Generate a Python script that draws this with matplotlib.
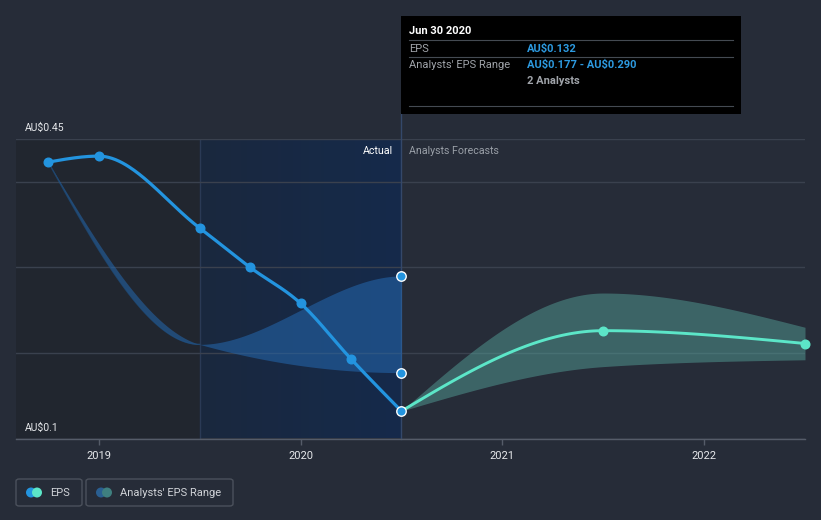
import numpy as np
import matplotlib
matplotlib.use("Agg")
import matplotlib.pyplot as plt
from matplotlib.patches import Rectangle, FancyBboxPatch, Ellipse
from matplotlib.lines import Line2D

plt.rcParams['font.family'] = ['Roboto', 'DejaVu Sans']

# ---------------- data ----------------
eps_x = [2018.75, 2019.0, 2019.5, 2019.75, 2020.0, 2020.25, 2020.5]
eps_y = [0.423, 0.430, 0.346, 0.300, 0.258, 0.193, 0.132]

past_range_x = [2018.75, 2019.5, 2020.5]
past_range_low = [0.423, 0.210, 0.177]
past_range_high = [0.423, 0.210, 0.290]

fc_x = [2020.5, 2021.5, 2022.5]
fc_eps = [0.132, 0.226, 0.211]
fc_low = [0.132, 0.184, 0.192]
fc_high = [0.132, 0.270, 0.230]

year_ticks = [2019, 2020, 2021, 2022]
year_labels = ["2019", "2020", "2021", "2022"]
y_labels = {0.45: r"AU\$0.45", 0.1: r"AU\$0.1"}
grid_vals = [0.1, 0.2, 0.3, 0.4, 0.45]

XMIN, XMAX = 2018.59, 2022.5
YMIN, YMAX = 0.1, 0.45

# ---------------- colours ----------------
BG = '#262c38'
GRID = '#3a414e'
BLUE = '#2394df'
TEAL = '#5ce6c8'
PAST_FILL = '#2468b0'
FC_FILL = '#58aaa0'


def monotone(x, y, n=60, end_slope=None):
    """d3 curveMonotoneX style rendering of a polyline."""
    x = np.asarray(x, float); y = np.asarray(y, float)
    h = np.diff(x); s = np.diff(y) / h
    m = np.zeros_like(x)
    for i in range(1, len(x) - 1):
        h0, h1 = h[i - 1], h[i]
        s0, s1 = s[i - 1], s[i]
        p = (s0 * h1 + s1 * h0) / (h0 + h1)
        m[i] = (np.sign(s0) + np.sign(s1)) * min(abs(s0), abs(s1), 0.5 * abs(p))
    m[0] = (3 * s[0] - m[1]) / 2 if len(x) > 2 else s[0]
    m[-1] = (3 * s[-1] - m[-2]) / 2 if len(x) > 2 else s[-1]
    if end_slope is not None:
        m[-1] = end_slope
    xs, ys = [], []
    for i in range(len(x) - 1):
        t = np.linspace(0, 1, n, endpoint=(i == len(x) - 2))
        h00 = 2 * t**3 - 3 * t**2 + 1
        h10 = t**3 - 2 * t**2 + t
        h01 = -2 * t**3 + 3 * t**2
        h11 = t**3 - t**2
        xs.append(x[i] + t * h[i])
        ys.append(h00 * y[i] + h10 * h[i] * m[i] + h01 * y[i + 1] + h11 * h[i] * m[i + 1])
    return np.concatenate(xs), np.concatenate(ys)


W, H = 821, 520
fig = plt.figure(figsize=(W / 100, H / 100), dpi=100)
fig.patch.set_facecolor(BG)


def fx(px):
    return px / W


def fy(py):
    return 1 - py / H


ax_left, ax_right, ax_top, ax_bottom = 16, 805, 139, 438.5
ax = fig.add_axes([fx(ax_left), fy(ax_bottom), fx(ax_right - ax_left), (ax_bottom - ax_top) / H])
ax.set_facecolor(BG)
ax.set_xlim(XMIN, XMAX)
ax.set_ylim(YMIN, YMAX)
for sp in ['top', 'right', 'left']:
    ax.spines[sp].set_visible(False)
ax.spines['bottom'].set_color('#555c69')
ax.spines['bottom'].set_linewidth(1)

# shaded regions
ax.axvspan(XMIN, 2019.5, color='#21262f', zorder=0, lw=0)
grad = np.linspace(0, 1, 256).reshape(1, -1)
c0 = np.array([26, 40, 62]) / 255
c1 = np.array([21, 42, 75]) / 255
img = c0[None, None, :] * (1 - grad[..., None]) + c1[None, None, :] * grad[..., None]
ax.imshow(img, extent=[2019.5, 2020.5, YMIN, YMAX], aspect='auto', zorder=0.5)
ax.axvline(2019.5, color='#2a3a55', lw=1, zorder=1)

# grid
for g in grid_vals:
    ax.axhline(g, color=GRID if g != 0.1 else '#555c69', lw=1, zorder=1)

# past analyst range
bx, bl = monotone(past_range_x, past_range_low, end_slope=0.0)
_, bh = monotone(past_range_x, past_range_high, end_slope=0.0)
ax.fill_between(bx, bl, bh, color=PAST_FILL, alpha=0.55, lw=0, zorder=2)
left = bx <= 2019.5
ax.plot(bx[left], bh[left], color='#1f4f80', lw=1.0, alpha=0.7, zorder=2)

# forecast range
fx_, fl = monotone(fc_x, fc_low)
_, fh = monotone(fc_x, fc_high)
ax.fill_between(fx_, fl, fh, color=FC_FILL, alpha=0.45, lw=0, zorder=2)

# forecast line
lx, ly = monotone(fc_x, fc_eps)
ax.plot(lx, ly, color=TEAL, lw=2.1, zorder=3, solid_capstyle='round')
ax.plot(fc_x[1:], fc_eps[1:], 'o', color=TEAL, ms=6.2, zorder=4, clip_on=False)

# EPS line
ex, ey = monotone(eps_x, eps_y)
ax.plot(ex, ey, color=BLUE, lw=2.3, zorder=5, solid_capstyle='round')
ax.plot(eps_x[:-1], eps_y[:-1], 'o', color=BLUE, ms=6.2, zorder=6)
ax.plot([eps_x[-1]], [eps_y[-1]], 'o', color=BLUE, ms=6.8, mec='white', mew=1, zorder=7)
ax.plot([past_range_x[-1]] * 2, [past_range_low[-1], past_range_high[-1]], 'o',
        color=BLUE, ms=6.8, mec='white', mew=1, zorder=7, ls='none')

# vertical hover line extending to tooltip
ax.axvline(2020.5, ymin=0, ymax=(ax_bottom - 113) / (ax_bottom - ax_top),
           color='#34486a', lw=1, zorder=1.5, clip_on=False)

# ticks
ax.set_xticks(year_ticks)
ax.set_xticklabels(year_labels, color='#e6e8eb', fontsize=8)
ax.tick_params(axis='x', colors='#555c69', length=4, width=1, pad=5, labelcolor='#e6e8eb')
ax.set_yticks([])

# y labels
for v, lab in y_labels.items():
    ypx = ax_bottom - (v - YMIN) / (YMAX - YMIN) * (ax_bottom - ax_top)
    fig.text(fx(25), fy(ypx - 11), lab, color='#e6e8eb', fontsize=7.5, va='center', ha='left')

# Actual / Forecast labels
fig.text(fx(393), fy(151), "Actual", color='white', fontsize=7.7, ha='right', va='center')
fig.text(fx(409), fy(151), "Analysts Forecasts", color='#9aa0a8', fontsize=7.7, ha='left', va='center')

# tooltip
fig.patches.append(Rectangle((fx(401), fy(114)), fx(741 - 401), (114 - 16) / H,
                             transform=fig.transFigure, facecolor='black', edgecolor='none', zorder=10))
for ly_ in [40, 57, 106]:
    fig.lines.append(Line2D([fx(409), fx(733)], [fy(ly_), fy(ly_)], transform=fig.transFigure,
                            color='#444a52', lw=0.8, zorder=11))
TS = 8
fig.text(fx(409), fy(31), "Jun 30 2020", color='white', fontsize=TS, fontweight='bold',
         va='center', ha='left', zorder=12)
fig.text(fx(409), fy(48.5), "EPS", color='#a0a4aa', fontsize=TS, va='center', ha='left', zorder=12)
fig.text(fx(527), fy(48.5), r"AU\$0.132", color='#2d9ae0', fontsize=TS, fontweight='bold',
         va='center', ha='left', zorder=12)
fig.text(fx(409), fy(65), "Analysts' EPS Range", color='#a0a4aa', fontsize=TS, va='center',
         ha='left', zorder=12)
fig.text(fx(527), fy(65), r"AU\$0.177 - AU\$0.290", color='#2d9ae0', fontsize=TS, fontweight='bold',
         va='center', ha='left', zorder=12)
fig.text(fx(527), fy(81.5), "2 Analysts", color='#a0a4aa', fontsize=TS, fontweight='bold',
         va='center', ha='left', zorder=12)


# legend boxes
def legend_box(x0, x1, label, c_a, c_b, tx):
    fig.patches.append(FancyBboxPatch((fx(x0), fy(506)), fx(x1 - x0), 27 / H,
                                      boxstyle="round,pad=0,rounding_size=0.004",
                                      transform=fig.transFigure, facecolor=BG,
                                      edgecolor='#4b515c', lw=1, zorder=10))
    r = 5 / W
    ell_h = 5 / H
    fig.patches.append(Ellipse((fx(x0 + 15), fy(492.5)), 2 * r, 2 * ell_h, transform=fig.transFigure,
                               facecolor=c_a, edgecolor='none', zorder=11))
    fig.patches.append(Ellipse((fx(x0 + 21), fy(492.5)), 2 * r, 2 * ell_h, transform=fig.transFigure,
                               facecolor=c_b, edgecolor='none', zorder=12))
    fig.text(fx(tx), fy(492.5), label, color='#d0d3d8', fontsize=8, va='center', ha='left', zorder=13)


legend_box(16, 82, "EPS", BLUE, TEAL, 50)
legend_box(86, 233, "Analysts' EPS Range", '#2a5f92', '#3f8080', 120)

fig.savefig("out.png", dpi=100, facecolor=BG)
